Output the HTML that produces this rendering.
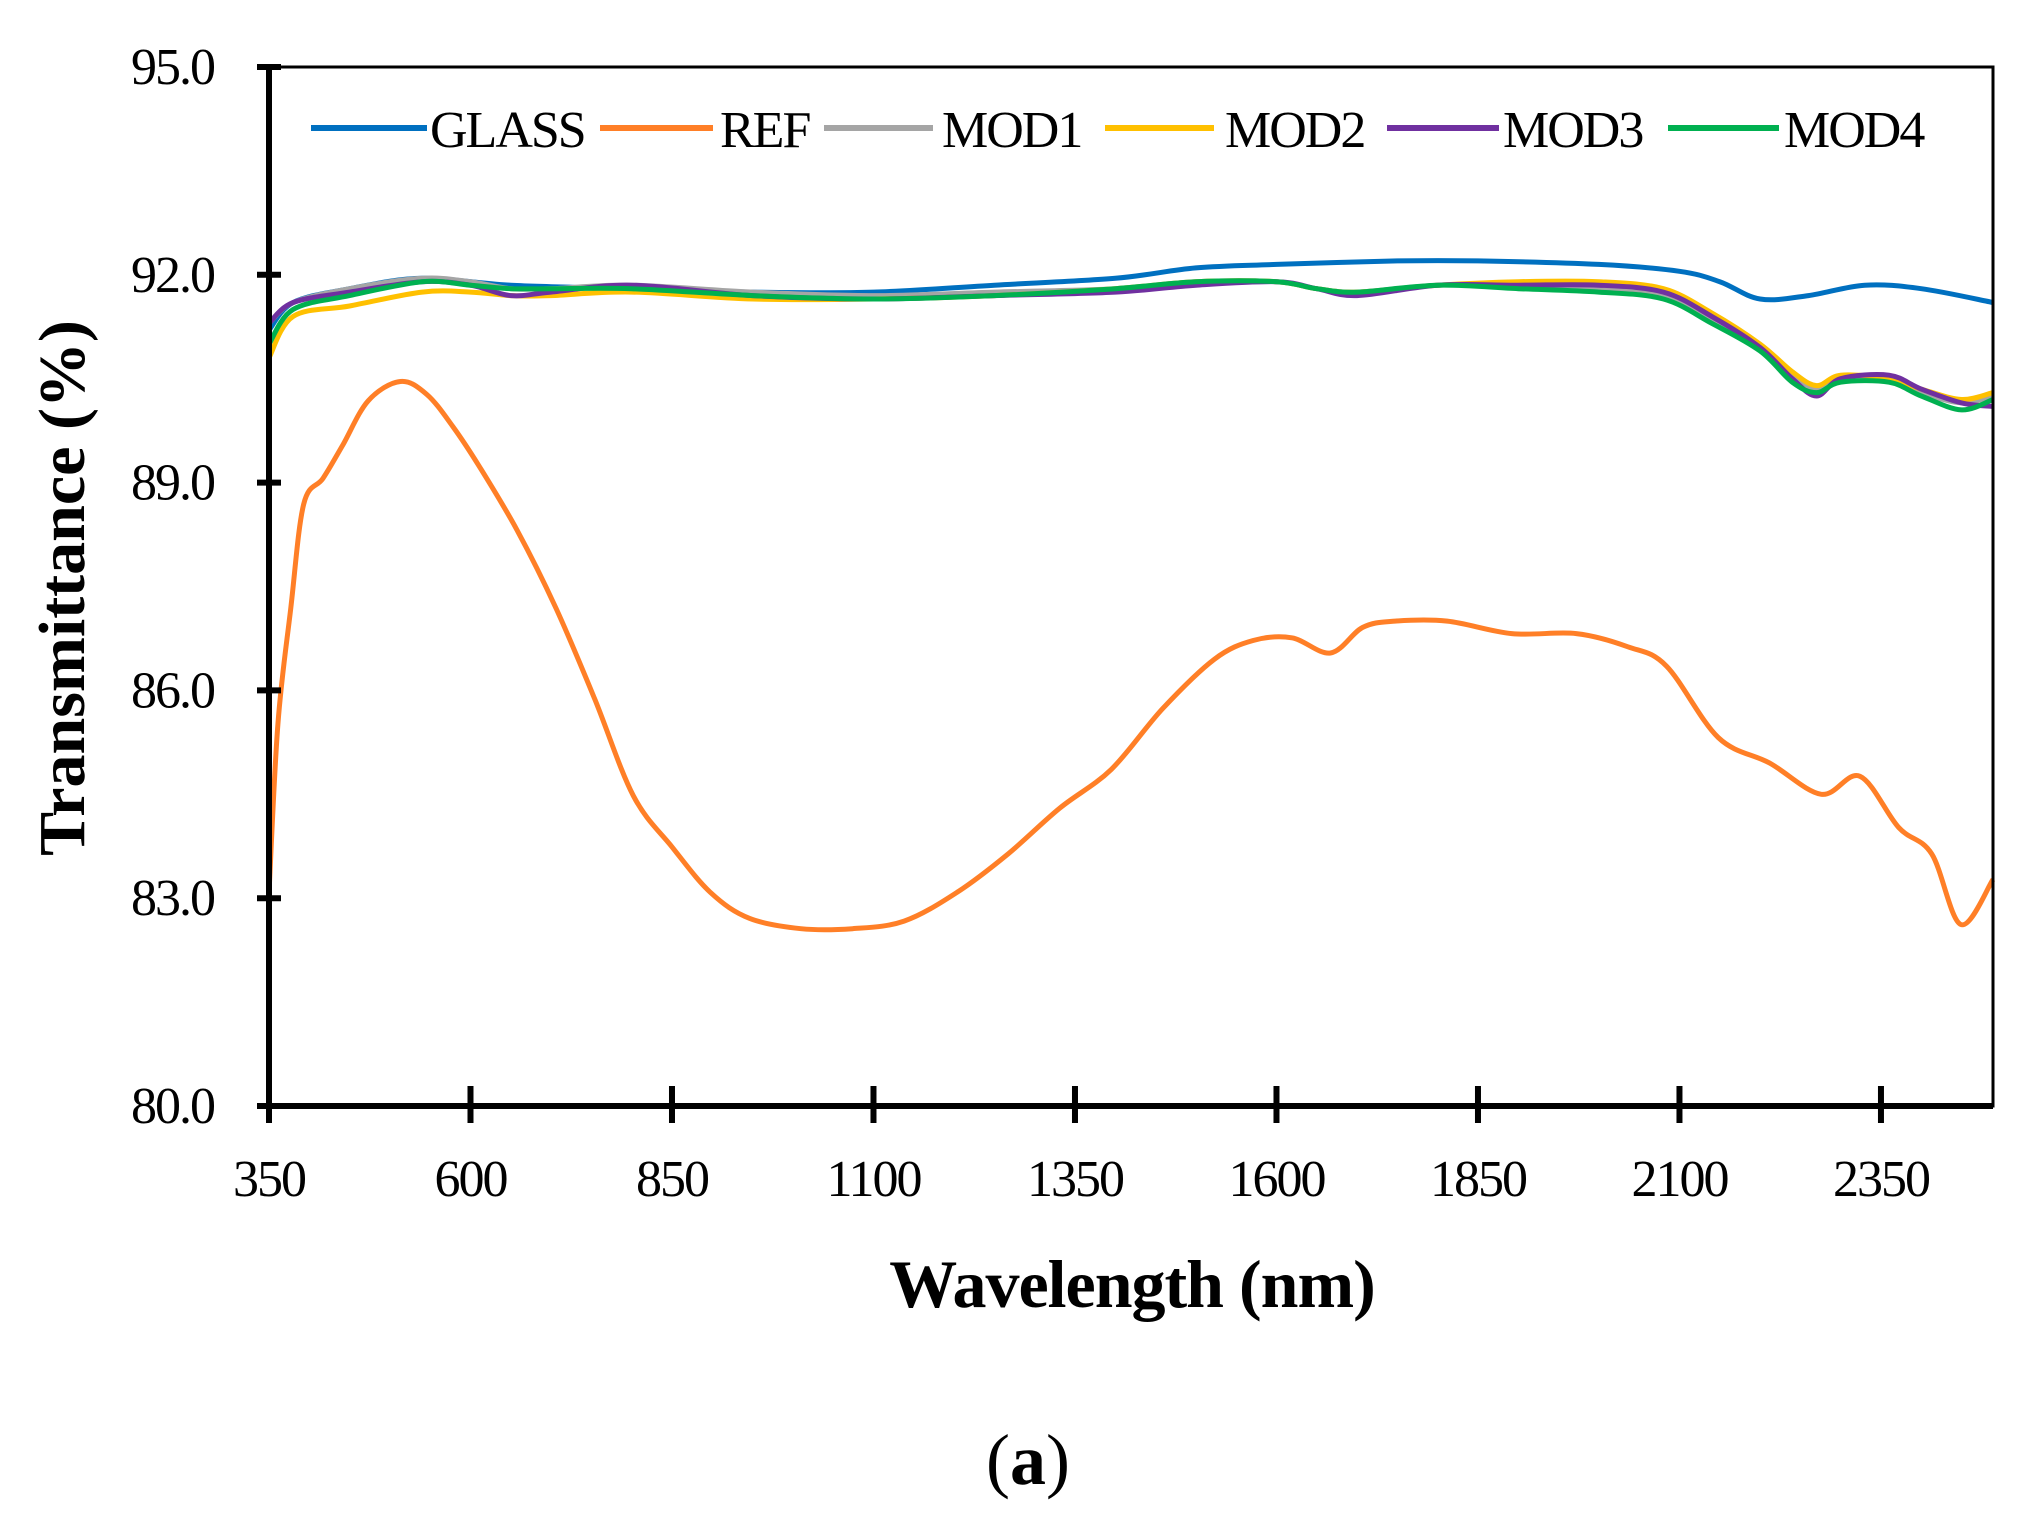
<!DOCTYPE html>
<html><head><meta charset="utf-8"><style>
html,body{margin:0;padding:0;background:#fff;}
svg{display:block;font-family:"Liberation Serif",serif;}
</style></head><body>
<svg id="chart" width="2024" height="1523" viewBox="0 0 2024 1523">
<g id="series"></g>
<g id="axes"></g>
<g id="legend"></g>
<text x="1132" y="1307" text-anchor="middle" font-size="68" font-weight="bold" letter-spacing="-1">Wavelength (nm)</text>
<text transform="translate(84,588) rotate(-90)" text-anchor="middle" font-size="66" font-weight="bold">Transmittance (%)</text>
<text x="1028" y="1484" text-anchor="middle" font-size="72">(<tspan font-weight="bold">a</tspan>)</text>
</svg>
<script>
const xTicks = [350,600,850,1100,1350,1600,1850,2100,2350];
const yTicks = [80,83,86,89,92,95];
const seriesNames = ["GLASS","REF","MOD1","MOD2","MOD3","MOD4"];
const seriesColors = ["#0070c0","#ff7f27","#a5a5a5","#ffc000","#7030a0","#00b050"];
const refX = [350,361,377,393,417,441,473,513,546,578,610,658,706,754,802,850,898,946,1010,1074,1138,1203,1267,1331,1395,1459,1523,1571,1619,1667,1707,1747,1812,1892,1972,2036,2084,2148,2212,2276,2324,2372,2413,2449,2489];
const refY = [83.08,85.51,87.19,88.69,89.06,89.53,90.18,90.46,90.27,89.81,89.25,88.31,87.19,85.88,84.48,83.74,83.08,82.71,82.56,82.56,82.67,83.08,83.64,84.30,84.86,85.74,86.45,86.72,86.76,86.54,86.91,87.00,87.00,86.82,86.82,86.63,86.35,85.32,84.95,84.50,84.76,84.02,83.64,82.62,83.27];
const glassX = [350,380,450,540,650,800,950,1100,1250,1400,1500,1600,1750,1850,2000,2100,2150,2200,2260,2330,2400,2489];
const glassY = [91.2,91.6,91.8,91.95,91.85,91.8,91.75,91.75,91.85,91.95,92.1,92.15,92.2,92.2,92.15,92.05,91.9,91.65,91.7,91.85,91.8,91.6];
const modX = [350,380,450,540,600,650,700,800,950,1100,1250,1400,1500,1600,1650,1700,1800,1900,2000,2080,2140,2200,2240,2270,2300,2360,2400,2450,2489];
const mod1Y = [91.3,91.6,91.8,91.95,91.9,91.8,91.8,91.85,91.75,91.7,91.75,91.8,91.9,91.9,91.8,91.75,91.85,91.85,91.8,91.7,91.35,90.95,90.55,90.35,90.5,90.5,90.3,90.15,90.25];
const mod2Y = [90.8,91.4,91.55,91.75,91.75,91.7,91.7,91.75,91.65,91.65,91.7,91.8,91.9,91.9,91.8,91.75,91.85,91.9,91.9,91.8,91.45,91.0,90.6,90.4,90.55,90.5,90.35,90.2,90.3];
const mod3Y = [91.3,91.6,91.75,91.9,91.85,91.7,91.75,91.85,91.7,91.65,91.7,91.75,91.85,91.9,91.8,91.7,91.85,91.85,91.85,91.75,91.4,90.95,90.5,90.25,90.5,90.55,90.35,90.15,90.1];
const mod4Y = [91.0,91.5,91.7,91.9,91.85,91.8,91.8,91.8,91.7,91.65,91.7,91.8,91.9,91.9,91.8,91.75,91.85,91.8,91.75,91.65,91.3,90.9,90.45,90.3,90.45,90.45,90.25,90.05,90.2];

const NS="http://www.w3.org/2000/svg";
const L=269,R=1993,T=67,B=1106,XMIN=350,XMAX=2489,YMIN=80,YMAX=95;
function sx(v){return L+(v-XMIN)/(XMAX-XMIN)*(R-L);}
function sy(v){return B-(v-YMIN)/(YMAX-YMIN)*(B-T);}
function mk(tag,attrs,parent){const e=document.createElementNS(NS,tag);for(const k in attrs)e.setAttribute(k,attrs[k]);parent.appendChild(e);return e;}
function smoothPath(xs,ys){
  const p=xs.map((x,i)=>[sx(x),sy(ys[i])]);
  let d="M"+p[0][0].toFixed(1)+","+p[0][1].toFixed(1);
  for(let i=0;i<p.length-1;i++){
    const p0=p[i-1]||p[i],p1=p[i],p2=p[i+1],p3=p[i+2]||p2;
    const c1=[p1[0]+(p2[0]-p0[0])/6,p1[1]+(p2[1]-p0[1])/6];
    const c2=[p2[0]-(p3[0]-p1[0])/6,p2[1]-(p3[1]-p1[1])/6];
    d+=" C"+c1[0].toFixed(1)+","+c1[1].toFixed(1)+" "+c2[0].toFixed(1)+","+c2[1].toFixed(1)+" "+p2[0].toFixed(1)+","+p2[1].toFixed(1);
  }
  return d;
}
const sg=document.getElementById("series");
const sdata=[[glassX,glassY],[refX,refY],[modX,mod1Y],[modX,mod2Y],[modX,mod3Y],[modX,mod4Y]];
const order=[1,0,2,3,4,5];
order.forEach(i=>{
  const p=mk("path",{d:smoothPath(sdata[i][0],sdata[i][1]),fill:"none",stroke:seriesColors[i],"stroke-width":5,"stroke-linejoin":"round"},sg);
  
  
});
const ag=document.getElementById("axes");
const frame=mk("rect",{x:L,y:T,width:R-L,height:B-T,fill:"none",stroke:"#000","stroke-width":3},ag);


const ya=mk("line",{x1:L,y1:T,x2:L,y2:B,stroke:"#000","stroke-width":6},ag);


const xa=mk("line",{x1:L-12,y1:B,x2:R,y2:B,stroke:"#000","stroke-width":6},ag);


yTicks.forEach(v=>{
  const y=sy(v);
  const t=mk("line",{x1:L-12,y1:y,x2:L+12,y2:y,stroke:"#000","stroke-width":6},ag);
  
  
  const tx=mk("text",{x:L-55,y:y+17,"text-anchor":"end","font-size":52,"letter-spacing":-2},ag);
  tx.textContent=v.toFixed(1);
  
  
});
xTicks.forEach(v=>{
  const x=sx(v);
  const t=mk("line",{x1:x,y1:B-20,x2:x,y2:B+17,stroke:"#000","stroke-width":6},ag);
  
  
  const tx=mk("text",{x:x,y:B+90,"text-anchor":"middle","font-size":52,"letter-spacing":-2},ag);
  tx.textContent=String(v);
  
  
});
const lg=document.getElementById("legend");
const legX=[311,600,824,1105,1387,1668];
const legW=[116,113,109,109,112,111];
const legT=[430,720,942,1225,1503,1784];
seriesNames.forEach((n,i)=>{
  const g=mk("g",{},lg);
  
  
  mk("line",{x1:legX[i],y1:128,x2:legX[i]+legW[i],y2:128,stroke:seriesColors[i],"stroke-width":6},g);
  const t=mk("text",{x:legT[i],y:147,"font-size":52,"letter-spacing":-2},g);
  t.textContent=n;
});
</script>
</body></html>
